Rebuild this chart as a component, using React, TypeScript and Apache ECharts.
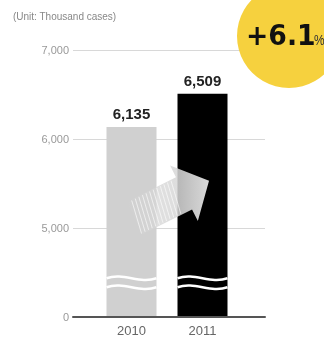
import React, { useEffect, useRef } from "react";
import * as echarts from "echarts";

const years = ["2010", "2011"];
const values = [6135, 6509];
const barColors = ["#d0d0d0", "#000000"];
const axisBase = 4000; // origin of the broken axis, shown as "0"
const axisMax = 7000;
const axisStep = 1000;
const breakValue = 4385; // where the bars are "cut"
const unitLabel = "(Unit: Thousand cases)";
const growthLabel = "+6.1";
const growthUnit = "%";

const fmt = (v: number) => (v === axisBase ? "0" : v.toLocaleString("en-US"));

export default function App() {
  const ref = useRef<HTMLDivElement>(null);
  useEffect(() => {
    if (!ref.current) return;
    const chart = echarts.init(ref.current, null, { renderer: "svg" });
    const font = '"Liberation Sans", Arial, sans-serif';
    chart.setOption({
      animation: false,
      grid: [
        { left: 73, right: 59, top: 50, bottom: 21 },
        { left: 96, right: 86, top: 50, bottom: 21 },
      ],
      xAxis: [
        {
          type: "category",
          gridIndex: 0,
          data: years,
          axisLine: { show: true, lineStyle: { color: "#555", width: 2 } },
          axisTick: { show: false },
          axisLabel: { show: false },
          z: 5,
        },
        {
          type: "category",
          gridIndex: 1,
          data: years,
          axisLine: { show: false },
          axisTick: { show: false },
          axisLabel: { color: "#666", fontSize: 13, fontFamily: font, margin: 7 },
        },
      ],
      yAxis: [
        {
          type: "value",
          gridIndex: 0,
          min: axisBase,
          max: axisMax,
          interval: axisStep,
          axisLine: { show: false },
          axisTick: { show: false },
          axisLabel: { color: "#999", fontSize: 11, fontFamily: font, margin: 4, formatter: fmt },
          splitLine: { lineStyle: { color: "#d8d8d8", width: 1 } },
        },
        {
          type: "value",
          gridIndex: 1,
          min: axisBase,
          max: axisMax,
          interval: axisStep,
          show: false,
          splitLine: { show: false },
        },
      ],
      series: [
        {
          type: "bar",
          xAxisIndex: 1,
          yAxisIndex: 1,
          barWidth: 50,
          data: values.map((v, i) => ({ value: v, itemStyle: { color: barColors[i] } })),
          label: {
            show: true,
            position: "top",
            distance: 6,
            color: "#222",
            fontSize: 15,
            fontWeight: "bold",
            fontFamily: font,
            formatter: (p: any) => fmt(p.value),
          },
        },
      ],
    });

    const px = (i: number, v: number) =>
      chart.convertToPixel({ xAxisIndex: 1, yAxisIndex: 1 }, [i, v]) as number[];
    const half = 25;
    const waves: any[] = [];
    values.forEach((_, i) => {
      const [cx, cy] = px(i, breakValue);
      [-4.5, 4.5].forEach((dy) => {
        const y = cy + dy;
        waves.push({
          type: "bezierCurve",
          z: 20,
          shape: {
            x1: cx - half,
            y1: y,
            cpx1: cx - half + 17,
            cpy1: y - 6,
            cpx2: cx + half - 17,
            cpy2: y + 6,
            x2: cx + half,
            y2: y,
          },
          style: { stroke: "#fff", lineWidth: 2.5, fill: "none" },
        });
      });
    });

    // arrow between bars
    const [c2x] = px(1, breakValue);
    const [, hy] = px(1, 5390);
    const H = [c2x - 18.5, hy];
    const u = [0.894, -0.447];
    const n = [0.447, 0.894];
    const pt = (base: number[], a: number, b: number) => [
      base[0] + u[0] * a + n[0] * b,
      base[1] + u[1] * a + n[1] * b,
    ];
    const arrowPts = [
      pt(H, -55, -18),
      pt(H, 0, -18),
      pt(H, 0, -31),
      pt(H, 28, 0),
      pt(H, 0, 31),
      pt(H, 0, 18),
      pt(H, -55, 18),
    ];
    const stripes: any[] = [];
    for (let k = -50; k <= -4; k += 4) {
      const a = pt(H, k, -17);
      const b = pt(H, k - 6, 17);
      stripes.push({
        type: "line",
        z: 31,
        shape: { x1: a[0], y1: a[1], x2: b[0], y2: b[1] },
        style: { stroke: "rgba(255,255,255,0.6)", lineWidth: 1 },
      });
    }

    chart.setOption({
      graphic: [
        ...waves,
        {
          type: "polygon",
          z: 30,
          shape: { points: arrowPts },
          style: {
            fill: new echarts.graphic.LinearGradient(0, 0, 1, 0, [
              { offset: 0, color: "rgba(214,214,214,0)" },
              { offset: 0.35, color: "rgba(214,214,214,0.75)" },
              { offset: 1, color: "#d9d9d9" },
            ]),
          },
        },
        ...stripes,
        {
          type: "text",
          left: 13,
          top: 11,
          style: { text: unitLabel, font: `10px ${font}`, fill: "#888" },
        },
        {
          type: "circle",
          z: 50,
          shape: { cx: 289, cy: 36, r: 52 },
          style: { fill: "#f6d13e" },
        },
        {
          type: "text",
          z: 51,
          x: 246,
          y: 35,
          scaleX: 0.92,
          style: {
            text: growthLabel,
            font: 'bold 29px "DejaVu Sans", sans-serif',
            fill: "#111",
            textAlign: "left",
            textVerticalAlign: "middle",
          },
        },
        {
          type: "text",
          z: 51,
          x: 314,
          y: 40,
          scaleX: 0.85,
          style: {
            text: growthUnit,
            font: `14px ${font}`,
            fill: "#333",
            textAlign: "left",
            textVerticalAlign: "middle",
          },
        },
      ],
    });
    return () => chart.dispose();
  }, []);
  return (
    <div
      ref={ref}
      style={{ position: "fixed", left: 0, top: 0, width: 324, height: 338 }}
    />
  );
}
